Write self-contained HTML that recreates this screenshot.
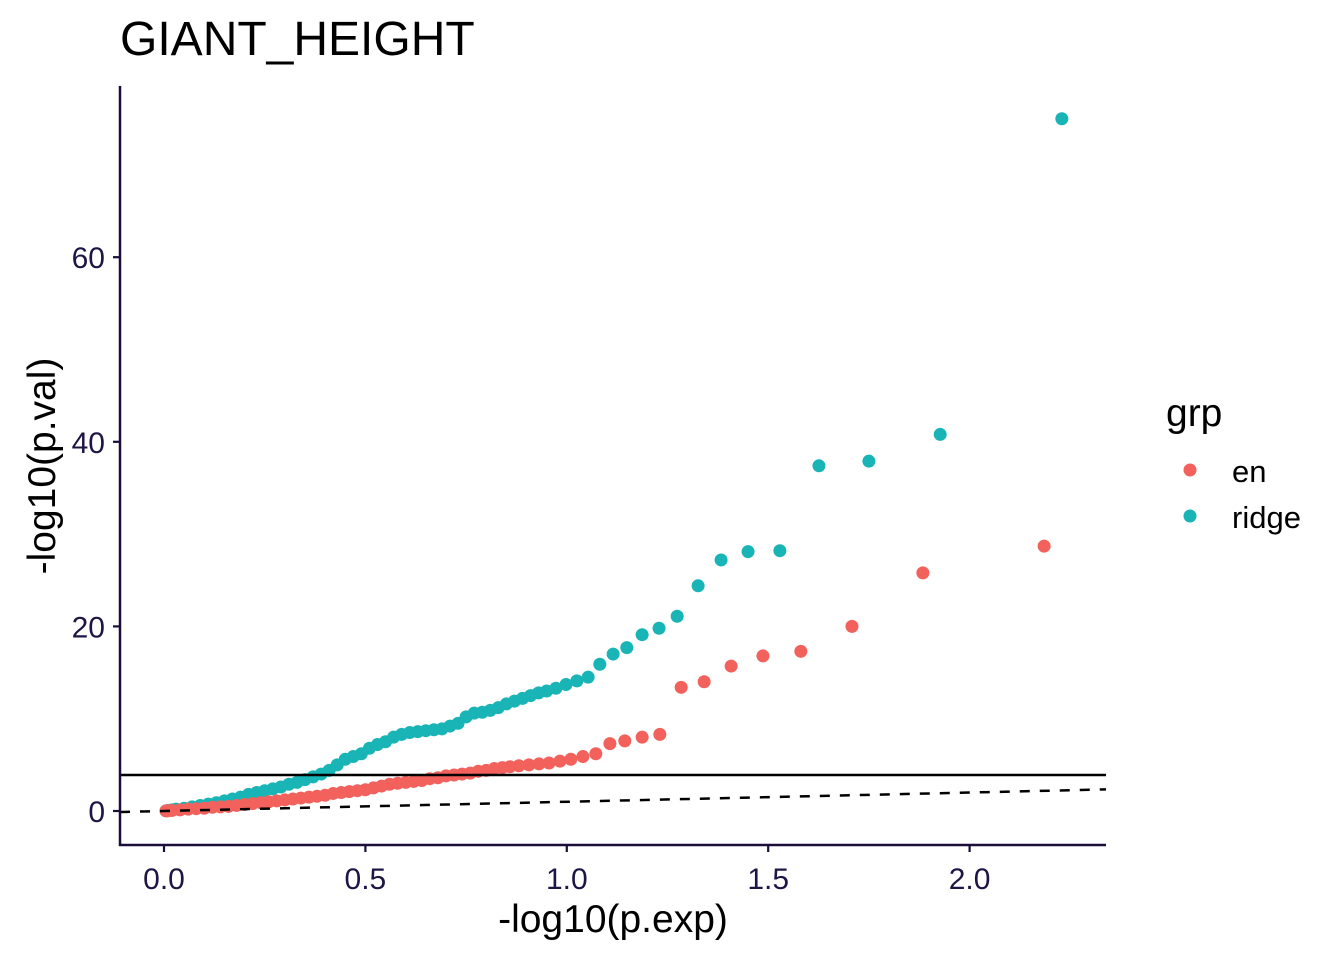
<!DOCTYPE html>
<html><head><meta charset="utf-8"><style>
body{margin:0;background:#fff;}
svg{display:block;font-family:"Liberation Sans",Arial,sans-serif;}
</style></head><body>
<svg id="chart" width="1344" height="960">
<text x="120" y="55" font-size="48" fill="#000">GIANT_HEIGHT</text>
<g id="points"></g>
<g id="lines"></g>
<g id="axes"></g>
<text x="613" y="932" font-size="39" text-anchor="middle" fill="#000">-log10(p.exp)</text>
<text transform="translate(55,466) rotate(-90)" font-size="39" text-anchor="middle" fill="#000">-log10(p.val)</text>
<g>
<text x="1166" y="426" font-size="39" fill="#000">grp</text>
<g><circle cx="1190" cy="470" r="6.5" fill="#f2615c"/><text x="1232" y="482" font-size="31" fill="#000">en</text></g>
<g><circle cx="1190" cy="516" r="6.5" fill="#19b4b6"/><text x="1232" y="528" font-size="31" fill="#000">ridge</text></g>
</g>
</svg>
<script>
const ridgeX=[2.229,1.927,1.750,1.626,1.529,1.450,1.383,1.326,1.274,1.229,1.187,1.149,1.115,1.082,1.053,1.025,0.998,0.973,0.95,0.93,0.91,0.89,0.87,0.85,0.83,0.81,0.79,0.77,0.75,0.73,0.71,0.69,0.67,0.65,0.63,0.61,0.59,0.57,0.55,0.53,0.51,0.49,0.47,0.45,0.43,0.41,0.39,0.37,0.35,0.33,0.31,0.29,0.27,0.25,0.23,0.21,0.19,0.17,0.15,0.13,0.11,0.09,0.07,0.05,0.03,0.02,0.01,0.005];
const ridgeY=[75.0,40.8,37.9,37.4,28.2,28.1,27.2,24.4,21.1,19.8,19.1,17.7,17.0,15.9,14.5,14.1,13.7,13.3,13.0,12.8,12.5,12.2,11.9,11.6,11.2,10.9,10.7,10.6,10.2,9.5,9.2,8.9,8.8,8.7,8.6,8.5,8.3,8.0,7.5,7.2,6.8,6.2,5.9,5.6,5.0,4.4,4.0,3.7,3.4,3.1,2.9,2.6,2.4,2.2,2.0,1.8,1.5,1.3,1.1,0.9,0.75,0.6,0.45,0.3,0.2,0.12,0.06,0.02];
const enX=[2.185,1.884,1.708,1.581,1.487,1.408,1.341,1.284,1.231,1.187,1.144,1.107,1.072,1.040,1.010,0.983,0.956,0.931,0.906,0.881,0.859,0.84,0.82,0.80,0.78,0.76,0.74,0.72,0.70,0.68,0.66,0.64,0.62,0.60,0.58,0.56,0.54,0.52,0.50,0.48,0.46,0.44,0.42,0.40,0.38,0.36,0.34,0.32,0.30,0.28,0.26,0.24,0.22,0.20,0.18,0.16,0.14,0.12,0.10,0.08,0.06,0.04,0.02,0.01,0.005];
const enY=[28.7,25.8,20.0,17.3,16.8,15.7,14.0,13.4,8.3,8.0,7.6,7.3,6.2,5.9,5.6,5.4,5.2,5.1,5.0,4.9,4.8,4.7,4.6,4.4,4.3,4.1,4.0,3.9,3.8,3.6,3.5,3.3,3.2,3.1,3.0,2.9,2.7,2.5,2.3,2.2,2.1,2.0,1.9,1.7,1.6,1.5,1.4,1.3,1.2,1.1,1.0,0.9,0.8,0.7,0.6,0.5,0.45,0.4,0.3,0.25,0.2,0.12,0.06,0.03,0.01];
const xTicks=[0,0.5,1,1.5,2];
const xTickLabels=["0.0","0.5","1.0","1.5","2.0"];
const yTicks=[0,20,40,60];
const yTickLabels=["0","20","40","60"];
const threshold=3.9;

const NS="http://www.w3.org/2000/svg";
const L=120,R=1106,T=86,B=845;
const sx=v=>164+v*402.8;
const sy=v=>811-v*9.23;
const xmin=(L-164)/402.8, xmax=(R-164)/402.8;
function mk(tag,attrs,parent){const e=document.createElementNS(NS,tag);for(const k in attrs)e.setAttribute(k,attrs[k]);parent.appendChild(e);return e;}
const pts=document.getElementById('points');
ridgeX.forEach((x,i)=>{const c=mk('circle',{cx:sx(x),cy:sy(ridgeY[i]),r:6.5,fill:'#19b4b6'},pts);

});
enX.forEach((x,i)=>{const c=mk('circle',{cx:sx(x),cy:sy(enY[i]),r:6.5,fill:'#f2615c'},pts);

});
const ln=document.getElementById('lines');
const h=mk('line',{x1:L,x2:R,y1:sy(threshold),y2:sy(threshold),stroke:'#000','stroke-width':2.5},ln);


const d=mk('line',{x1:L,x2:R,y1:sy(xmin),y2:sy(xmax),stroke:'#000','stroke-width':2.5,'stroke-dasharray':'10,10'},ln);


const ax=document.getElementById('axes');
const ac='#1a0d3a';
const ya=mk('line',{x1:L,x2:L,y1:T,y2:B+1,stroke:ac,'stroke-width':2.5},ax);


const xa=mk('line',{x1:L-1,x2:R,y1:B,y2:B,stroke:ac,'stroke-width':2.5},ax);


xTicks.forEach((v,i)=>{mk('line',{x1:sx(v),x2:sx(v),y1:B,y2:B+7,stroke:ac,'stroke-width':2.2},ax);
const t=mk('text',{x:sx(v),y:B+44,'font-size':30,'text-anchor':'middle',fill:'#1f1545'},ax);t.textContent=xTickLabels[i];

});
yTicks.forEach((v,i)=>{mk('line',{x1:L-7,x2:L,y1:sy(v),y2:sy(v),stroke:ac,'stroke-width':2.2},ax);
const t=mk('text',{x:L-15,y:sy(v)+11,'font-size':30,'text-anchor':'end',fill:'#1f1545'},ax);t.textContent=yTickLabels[i];

});
</script>
</body></html>
